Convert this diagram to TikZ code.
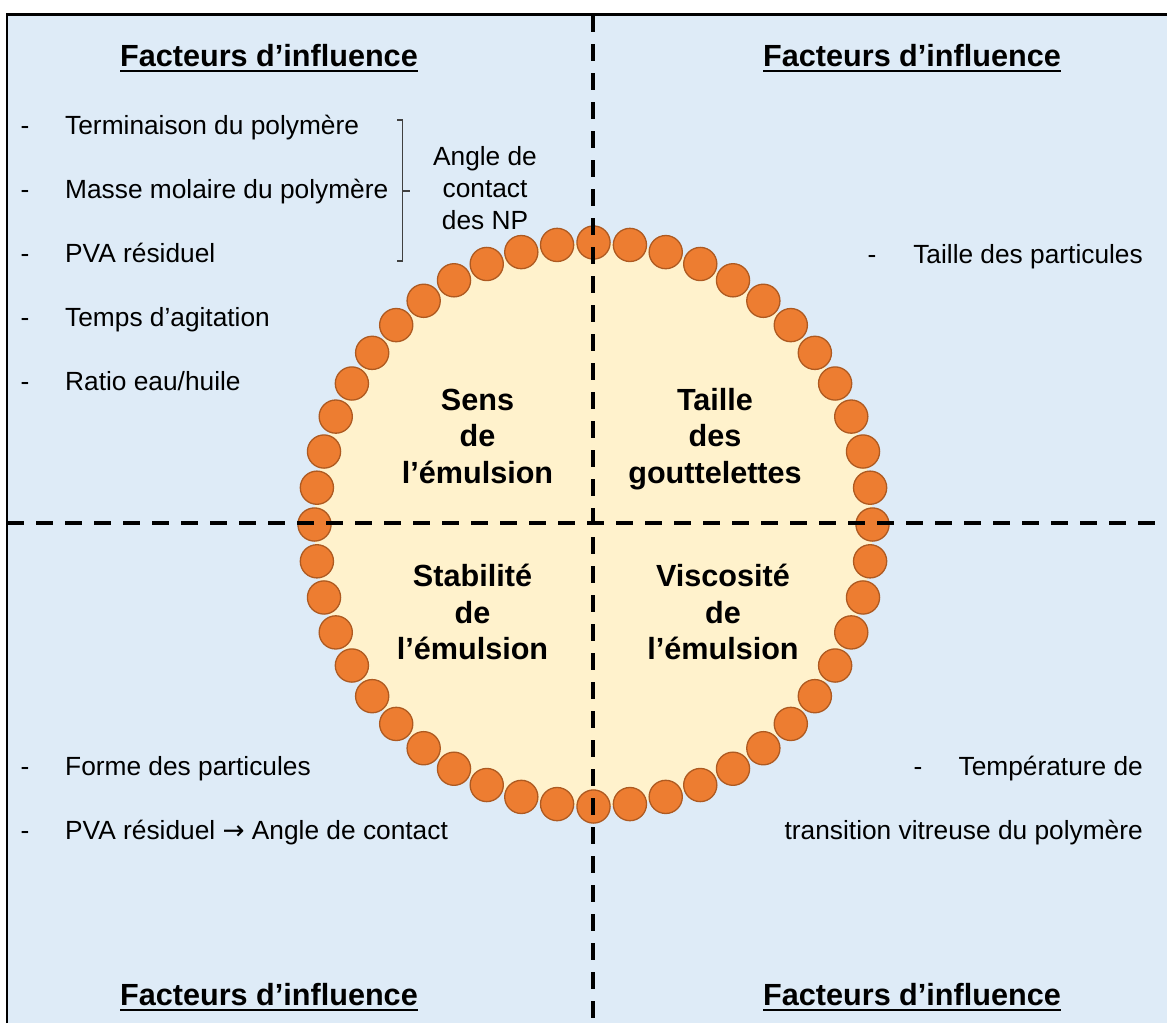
\documentclass[tikz,border=0pt]{standalone}
\usepackage{fontspec}
\setmainfont{Liberation Sans}
\newfontfamily\arrowfont{DejaVu Sans}
\definecolor{panel}{HTML}{DEEBF7}
\definecolor{cream}{HTML}{FFF2CC}
\definecolor{beadorange}{HTML}{ED7D31}
\definecolor{beadedge}{HTML}{AE5A21}
\definecolor{bracketgray}{HTML}{404040}

\begin{document}
\begin{tikzpicture}[x=1pt,y=-1pt,line join=miter]
  \tikzset{
    heading/.style={font=\fontsize{30.6}{36.5}\selectfont\bfseries,inner sep=0pt,anchor=base},
    uline/.style={line width=2.3pt},
    entry/.style={font=\fontsize{26.3}{32}\selectfont,inner sep=0pt},
    tiret/.style={entry,anchor=base},
    quadlabel/.style={font=\fontsize{30.6}{36.5}\selectfont\bfseries,align=center,inner sep=0pt},
    bead/.style={draw=beadedge,fill=beadorange,line width=1.3pt},
    bracket/.style={bracketgray,line width=1.2pt},
    divider/.style={line width=4pt,dash pattern=on 17pt off 12pt}
  }
  \useasboundingbox (0,0) rectangle (1167,1023);

  % Panel and frame.
  \fill[panel] (7,14.5) rectangle (1167,1023);
  \draw[line width=2.5pt] (7,1023) -- (7,14.5) -- (1167,14.5);

  % Droplet with its ring of particles.
  \fill[cream] (593.5,524.5) ellipse[x radius=279pt,y radius=282pt];
  \foreach \k in {0,...,47}
    \draw[bead] ({593.5+279*cos(7.5*\k)},{524.5+282*sin(7.5*\k)}) circle[radius=16.6pt];

  % Quadrant labels.
  \node[quadlabel] (sens) at (477.5,436) {Sens\\de\\l’émulsion};
  \node[quadlabel] (taille) at (715,439) {Taille\\des\\gouttelettes};
  \node[quadlabel] (stab) at (472.5,612) {Stabilité\\de\\l’émulsion};
  \node[quadlabel] (visc) at (723,612) {Viscosité\\de\\l’émulsion};

  % Headings.
  \node[heading] (hTL) at (269,66) {Facteurs d’influence};
  \node[heading] (hTR) at (912,66) {Facteurs d’influence};
  \node[heading] (hBL) at (269,1005) {Facteurs d’influence};
  \node[heading] (hBR) at (912,1005) {Facteurs d’influence};
  \foreach \h in {hTL,hTR,hBL,hBR}
    \draw[uline] ([yshift=-5pt]\h.base west) -- ([yshift=-5pt]\h.base east);

  % Top left list.
  \foreach \y/\n/\t in {134/tl1/{Terminaison du polymère},198/tl2/{Masse molaire du polymère},
      262/tl3/{PVA résiduel},326/tl4/{Temps d’agitation},390/tl5/{Ratio eau/huile}}{
    \node[tiret] (d\n) at (25,\y) {-};
    \node[entry,anchor=base west] (\n) at (65,\y) {\t};
  }
  \draw[bracket] (397,120) -| (402.5,261) -- (397,261);
  \draw[bracket] (402.5,191) -- (410,191);
  \node[entry,align=center] (angle) at (485,188) {Angle de\\contact\\des NP};

  % Top right list.
  \node[tiret] (dtr1) at (872,263) {-};
  \node[entry,anchor=base east] (tr1) at (1143,263) {Taille des particules};

  % Bottom left list.
  \node[tiret] (dbl1) at (25,775) {-};
  \node[entry,anchor=base west] (bl1) at (65,775) {Forme des particules};
  \node[tiret] (dbl2) at (25,839) {-};
  \node[entry,anchor=base west] (bl2) at (65,839) {PVA résiduel {\arrowfont →} Angle de contact};

  % Bottom right list.
  \node[tiret] (dbr1) at (918,775) {-};
  \node[entry,anchor=base east] (br1) at (1143,775) {Température de};
  \node[entry,anchor=base east] (br2) at (1143,839) {transition vitreuse du polymère};

  % Dividers.
  \draw[divider] (593.3,15) -- (593.3,1023);
  \draw[divider] (7,523) -- (1167,523);
\end{tikzpicture}
\end{document}
